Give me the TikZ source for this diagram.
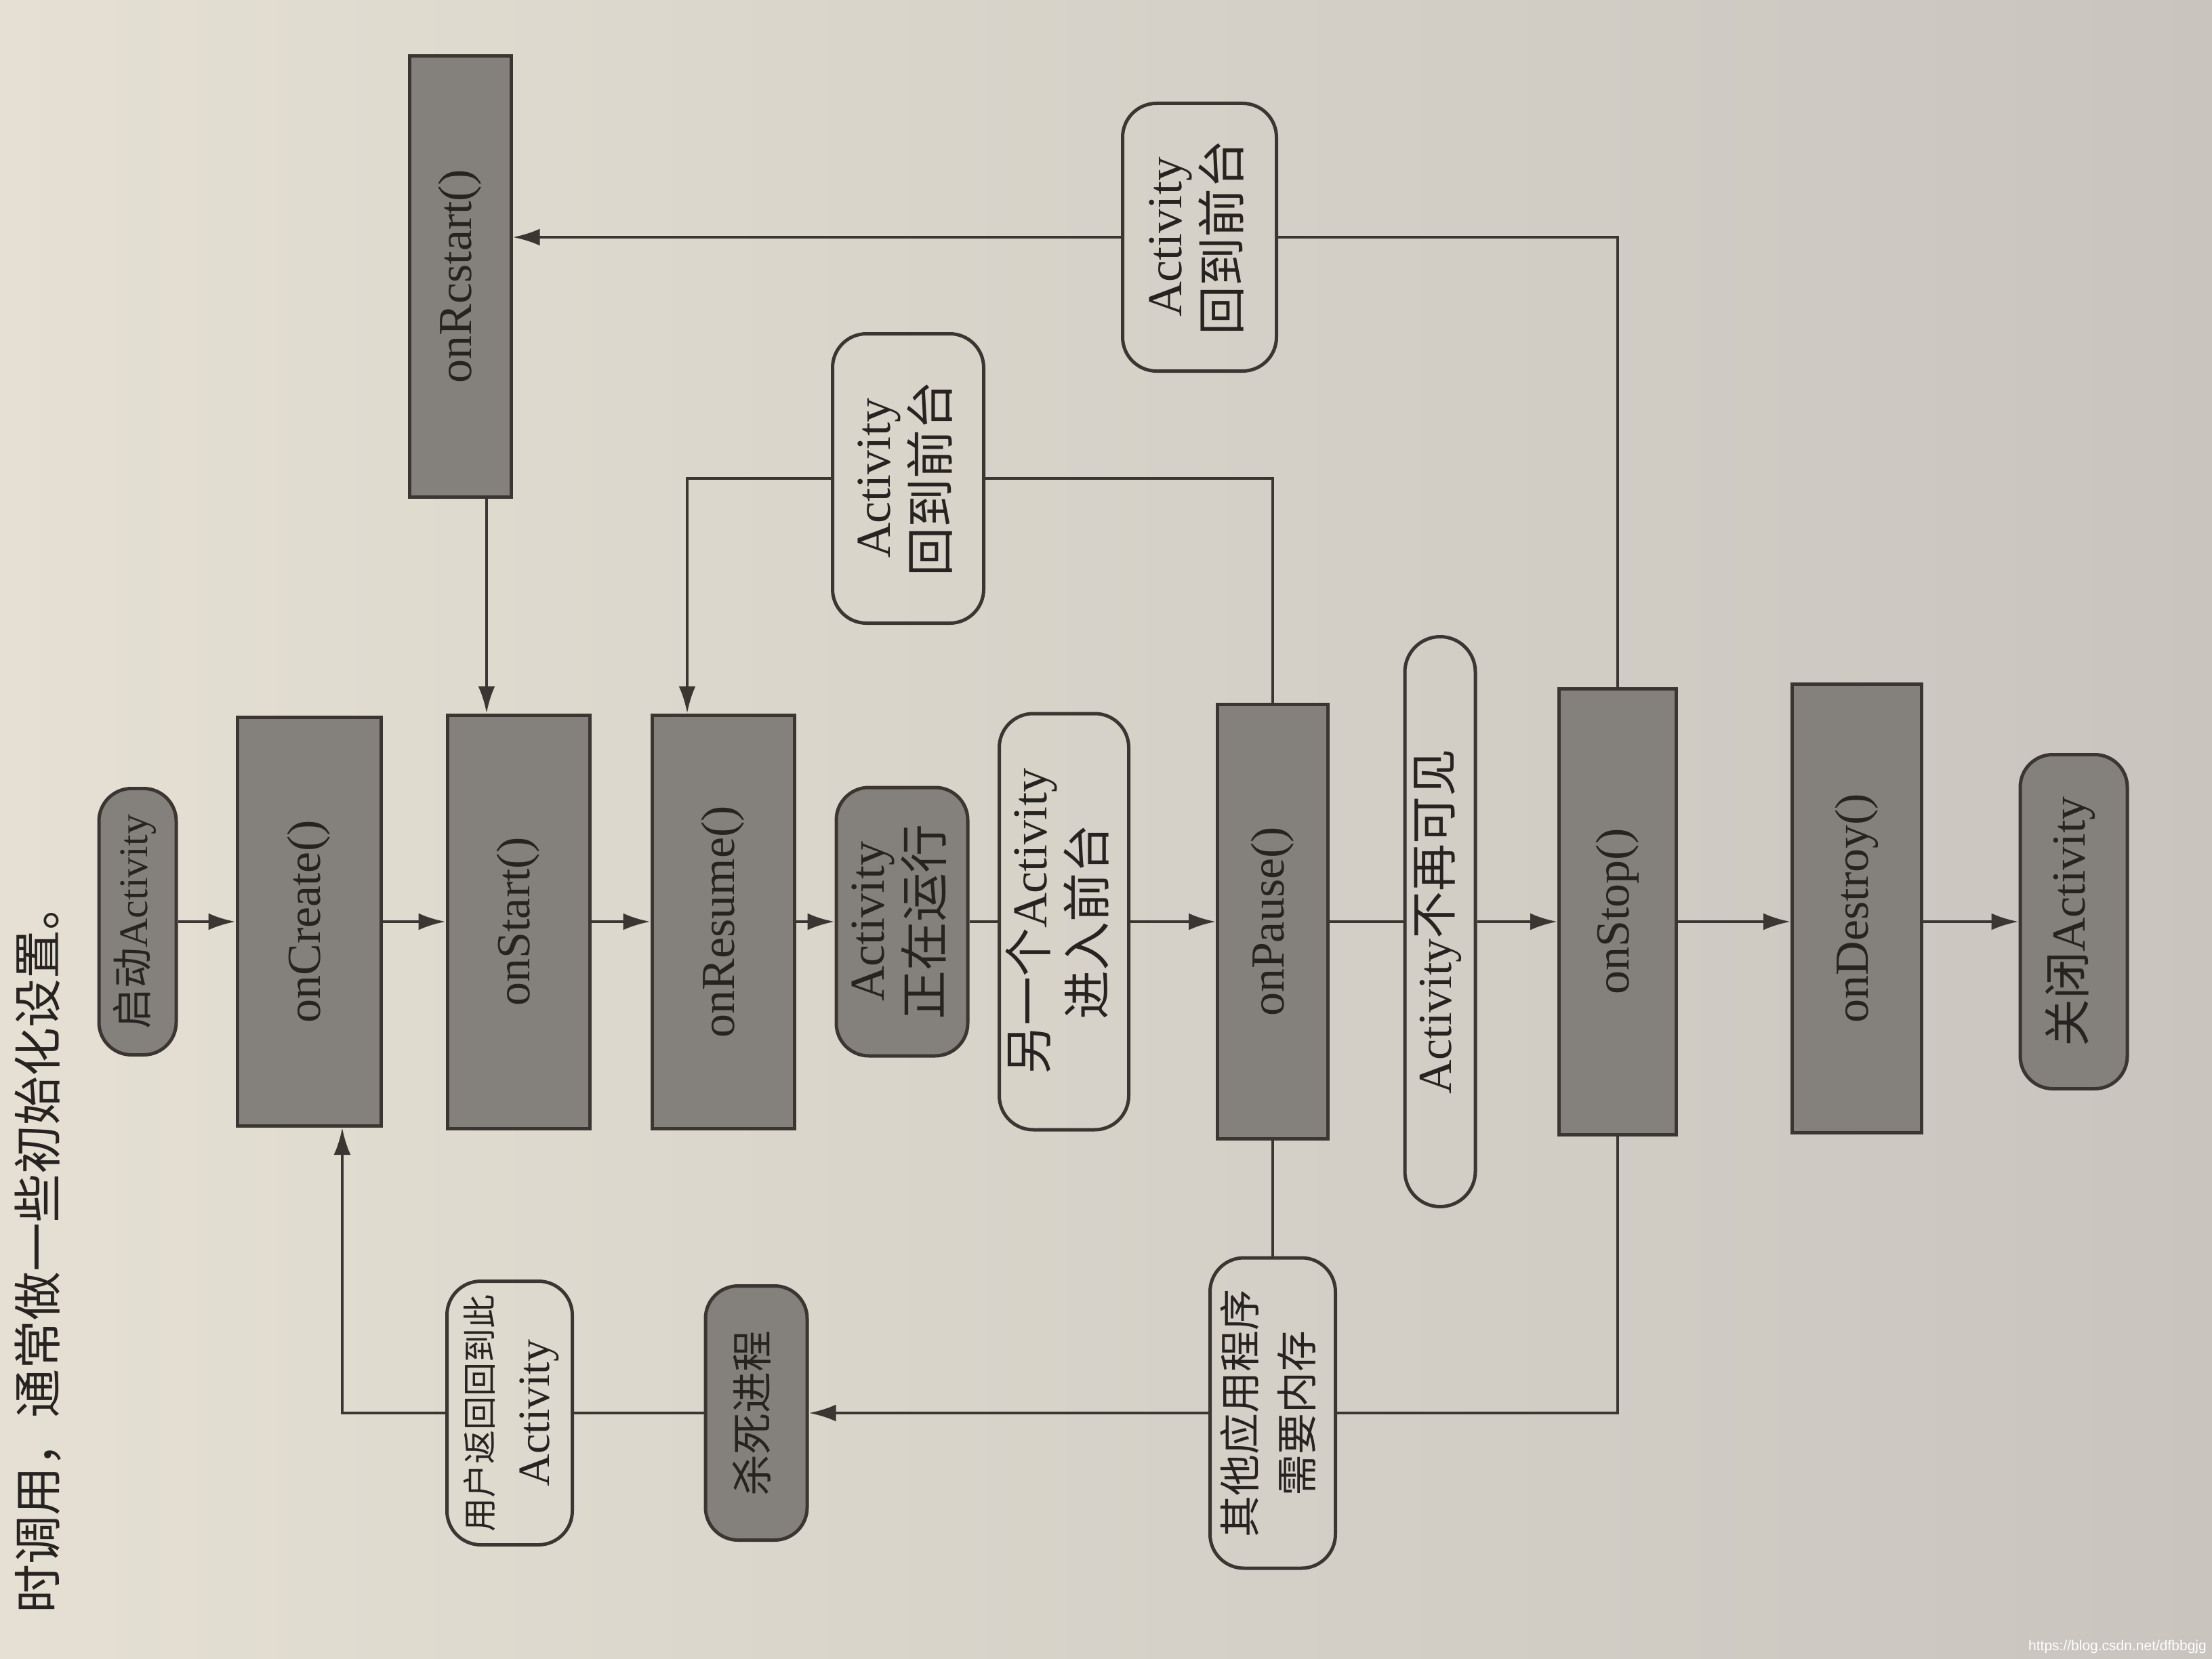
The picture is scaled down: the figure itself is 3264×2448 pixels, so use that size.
\documentclass[tikz,border=0pt]{standalone}
\usepackage{fontspec}
\setmainfont{Liberation Serif}
\newfontfamily\cjk{Noto Sans CJK SC}
\newfontfamily\wmfont{Liberation Sans}
\usetikzlibrary{arrows.meta,calc}
\definecolor{linec}{HTML}{3C3633}
\definecolor{boxgray}{HTML}{84807B}
\definecolor{textc}{HTML}{272321}
\definecolor{bgleft}{HTML}{E5E0D3}
\definecolor{bgright}{HTML}{C9C4BE}
\newcommand\vlbl[1]{\rotatebox{90}{\begin{tabular}{@{}c@{}}#1\end{tabular}}}
\tikzset{
  base/.style={draw=linec, line width=5pt, inner sep=0pt, text=textc,
    font=\fontsize{72pt}{84pt}\selectfont},
  method/.style={base, fill=boxgray, font=\fontsize{70pt}{84pt}\selectfont},
  darkround/.style={base, fill=boxgray, rounded corners=48pt},
  lightround/.style={base, rounded corners=50pt},
  conn/.style={draw=linec, line width=4.5pt},
  arr/.style={conn, -{Latex[length=40pt,width=25pt]}},
}
\begin{document}
\begin{tikzpicture}[x=1pt,y=-1pt]
\useasboundingbox (0,0) rectangle (3264,2448);
\shade[left color=bgleft, right color=bgright] (0,0) rectangle (3264,2448);

% page text at left edge
\node[rotate=90, anchor=east, text=textc, inner sep=0pt,
  font=\cjk\fontsize{72pt}{80pt}\selectfont] (pagetext) at (56,1300)
  {时调用，通常做一些初始化设置。};

% main chain
\node[darkround, minimum width=114pt, minimum height=393pt, font=\fontsize{60pt}{70pt}\selectfont] (start) at (203,1360)
  {\vlbl{{\cjk 启动}Activity}};
\node[method, minimum width=212pt, minimum height=603pt] (onCreate) at (456,1360) {\vlbl{onCreate()}};
\node[method, minimum width=210pt, minimum height=610pt] (onStart) at (765,1360) {\vlbl{onStart()}};
\node[method, minimum width=210pt, minimum height=610pt] (onResume) at (1067,1360) {\vlbl{onResume()}};
\node[darkround, minimum width=194pt, minimum height=396pt] (running) at (1331,1360)
  {\vlbl{Activity\\{\cjk 正在运行}}};
\node[lightround, minimum width=191pt, minimum height=614pt] (another) at (1570,1360)
  {\vlbl{{\cjk 另一个}Activity\\{\cjk 进入前台}}};
\node[method, minimum width=163pt, minimum height=641pt] (onPause) at (1878,1360) {\vlbl{onPause()}};
\node[base, rounded corners=52pt, minimum width=104pt, minimum height=841pt, font=\fontsize{70pt}{84pt}\selectfont] (notvis) at (2125,1360)
  {\vlbl{Activity{\cjk 不再可见}}};
\node[method, minimum width=173pt, minimum height=658pt] (onStop) at (2387,1345) {\vlbl{onStop()}};
\node[method, minimum width=191pt, minimum height=662pt] (onDestroy) at (2740,1340) {\vlbl{onDestroy()}};
\node[darkround, minimum width=158pt, minimum height=493pt, font=\fontsize{70pt}{84pt}\selectfont] (close) at (3060,1360)
  {\vlbl{{\cjk 关闭}Activity}};

% upper part
\node[method, minimum width=150pt, minimum height=650pt] (onRestart) at (679,408) {\vlbl{onRcstart()}};
\node[lightround, minimum width=227pt, minimum height=395pt] (back2) at (1770,350)
  {\vlbl{Activity\\{\cjk 回到前台}}};
\node[lightround, minimum width=223pt, minimum height=427pt] (back1) at (1340,706)
  {\vlbl{Activity\\{\cjk 回到前台}}};

% lower part
\node[lightround, minimum width=185pt, minimum height=389pt] (userback) at (752,2085)
  {\vlbl{{\cjk\fontsize{50pt}{90pt}\selectfont 用户返回回到此}\\\fontsize{66pt}{90pt}\selectfont Activity}};
\node[darkround, minimum width=150pt, minimum height=375pt] (kill) at (1116,2085)
  {\vlbl{{\cjk\fontsize{61pt}{70pt}\selectfont 杀死进程}}};
\node[lightround, minimum width=185pt, minimum height=458pt] (othermem) at (1878,2085)
  {\vlbl{{\cjk\fontsize{61pt}{84pt}\selectfont 其他应用程序}\\{\cjk\fontsize{61pt}{84pt}\selectfont 需要内存}}};

% helper coordinates
\coordinate (rsx) at (718,0);
\coordinate (resx) at (1014,0);
\coordinate (crx) at (505,0);

% main chain connectors
\draw[arr] (start) -- (onCreate);
\draw[arr] (onCreate) -- (onStart);
\draw[arr] (onStart) -- (onResume);
\draw[arr] (onResume) -- (running);
\draw[conn] (running) -- (another);
\draw[arr] (another) -- (onPause);
\draw[conn] (onPause) -- (notvis);
\draw[arr] (notvis) -- (onStop.west |- notvis);
\draw[arr] (onStop.east |- notvis) -- (onDestroy.west |- notvis);
\draw[arr] (onDestroy.east |- notvis) -- (close.west |- notvis);

% restart path
\draw[arr] (onRestart.south -| rsx) -- (onStart.north -| rsx);
\draw[conn] (onStop.north) |- (back2.east);
\draw[arr] (back2.west) -- (onRestart.east |- back2.west);

% resume path
\draw[conn] (onPause.north) |- (back1.east);
\draw[arr] (back1.west) -| (resx |- onResume.north);

% kill path
\draw[conn] (onPause) -- (othermem);
\draw[conn] (onStop.south) |- (othermem.east);
\draw[arr] (othermem) -- (kill);
\draw[conn] (kill) -- (userback);
\draw[arr] (userback.west) -| (crx |- onCreate.south);

% watermark
\node[anchor=south east, text=white, inner sep=0pt, font=\wmfont\fontsize{21pt}{24pt}\selectfont]
  (wm) at (3256,2440) {https://blog.csdn.net/dfbbgjg};
\end{tikzpicture}
\end{document}
